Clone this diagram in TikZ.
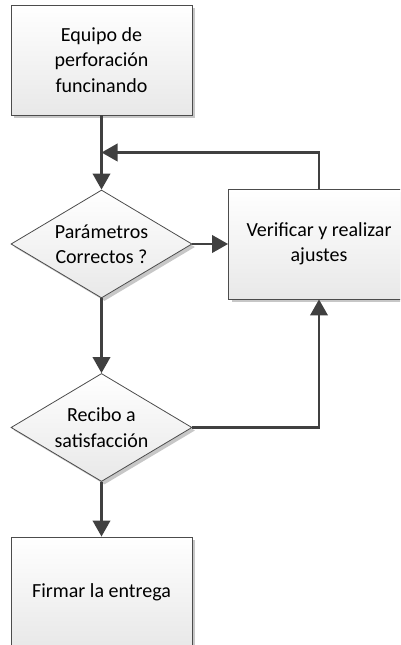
\documentclass[tikz,border=0pt]{standalone}
\usepackage{fontspec}
\setmainfont{Carlito}
\usetikzlibrary{arrows.meta,shapes,positioning,shadows,calc}

\begin{document}
\begin{tikzpicture}[x=0.75pt,y=-0.75pt,
  >={Triangle[length=12pt,width=13pt]},
  flowbox/.style={draw=black!70, line width=0.6pt, rectangle, minimum width=135.75pt, minimum height=82.5pt, top color=white, bottom color=black!9, align=center, font=\fontsize{15}{19}\selectfont, drop shadow={shadow xshift=2.25pt, shadow yshift=-2.25pt, fill=black!22, opacity=1}},
  decision/.style={flowbox, diamond, minimum width=135.75pt, minimum height=81pt, inner sep=0pt, aspect=1.68},
  flow/.style={draw=black!75, line width=2pt}]
\useasboundingbox (0,0) rectangle (400,645);
\clip (0,0) rectangle (400,645);

% Steps
\node[flowbox] (equipo) at (101.5,60) {Equipo de\\perforación\\funcinando};
\node[decision] (param) at (101.5,244) {Parámetros\\Correctos ?};
\node[flowbox] (ajustes) at (319,244) {Verificar y realizar\\ajustes};
\node[decision] (recibo) at (101.5,427.5) {Recibo a\\satisfacción};
\node[flowbox] (firmar) at (101.5,592) {Firmar la entrega};

% Connections
\coordinate (merge) at (101.5,152.5);
\draw[flow,->] (equipo) -- (param);
\draw[flow,->] (ajustes.north) |- (merge);
\draw[flow,->] (param) -- (ajustes);
\draw[flow,->] (param) -- (recibo);
\draw[flow,->] (recibo.east) -| (ajustes.south);
\draw[flow,->] (recibo) -- (firmar);

\end{tikzpicture}
\end{document}
